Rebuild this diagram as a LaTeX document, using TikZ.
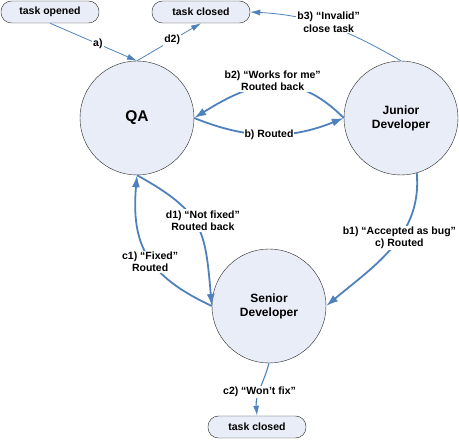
\documentclass[tikz,border=0pt]{standalone}
\usepackage{fontspec}
\setmainfont{Liberation Sans}
\usetikzlibrary{arrows.meta}
\definecolor{flowblue}{RGB}{79,129,189}
\definecolor{statefill}{RGB}{233,237,247}
\tikzstyle{every picture}=[x=1pt,y=1pt,>={Latex[length=12pt,width=8pt]}]
\tikzstyle{state}=[circle,draw=black!85,fill=statefill,minimum size=114pt,inner sep=0pt,align=center,font=\fontsize{12}{14}\selectfont\bfseries]
\tikzstyle{task}=[rounded corners=10.5pt,draw=black!85,fill=statefill,minimum width=98pt,minimum height=22pt,inner sep=0pt,font=\fontsize{10.5}{12}\selectfont\bfseries]
\tikzstyle{route}=[->,draw=flowblue,line width=1.8pt]
\tikzstyle{midroute}=[-{Latex[length=10pt,width=6pt]},draw=flowblue,line width=1.1pt]
\tikzstyle{thinroute}=[-{Latex[length=10pt,width=6pt]},draw=flowblue,line width=0.8pt]
\tikzstyle{lbl}=[fill=white,inner sep=1pt,align=center,font=\fontsize{10.5}{12.5}\selectfont\bfseries]

\begin{document}
\begin{tikzpicture}
    \useasboundingbox (0,0) rectangle (459,440);
    % Task ends
    \node[task] (opened) at (50,428) {task opened};
    \node[task] (closedtop) at (201,428) {task closed};
    \node[task] (closedbot) at (257,13) {task closed};
    % Roles
    \node[state,font=\fontsize{15.5}{18}\selectfont\bfseries] (qa) at (137,322) {QA};
    \node[state] (junior) at (401,322) {Junior\\Developer};
    \node[state] (senior) at (269,134) {Senior\\Developer};
    % In and out of QA
    \draw[thinroute] (opened.south) -- node[lbl,pos=0.55]{a)} (qa.north);
    \draw[thinroute] (qa.north) -- node[lbl,pos=0.55]{d2)} (closedtop.south);
    % QA and Junior
    \draw[route] (qa.east) to[out=-22,in=202] node[lbl]{b) Routed} (junior.west);
    \draw[route] (junior.west) to[out=135,in=32,looseness=1.2]
        node[lbl,yshift=5pt]{b2) “Works for me”\\Routed back} (qa.east);
    \draw[thinroute] (junior.north) to[out=150,in=-3]
        node[lbl,yshift=4pt]{b3) “Invalid”\\close task} (closedtop.east);
    % Junior to Senior
    \draw[route] (junior.-74) to[out=-85,in=40]
        node[lbl,pos=0.42]{b1) “Accepted as bug”\\c) Routed} (senior.east);
    % QA and Senior
    \draw[route] (senior.west) to[out=155,in=-95,looseness=1.2]
        node[lbl,xshift=2pt,yshift=-6pt]{c1) “Fixed”\\Routed} (qa.south);
    \draw[route] (qa.south) to[out=-29,in=95,looseness=1.3]
        node[lbl,pos=0.45,xshift=9pt]{d1) “Not fixed”\\Routed back} (senior.west);
    \draw[midroute] (senior.south) to[out=-105,in=95]
        node[lbl,pos=0.55]{c2) “Won’t fix”} (closedbot.north);
\end{tikzpicture}
\end{document}
